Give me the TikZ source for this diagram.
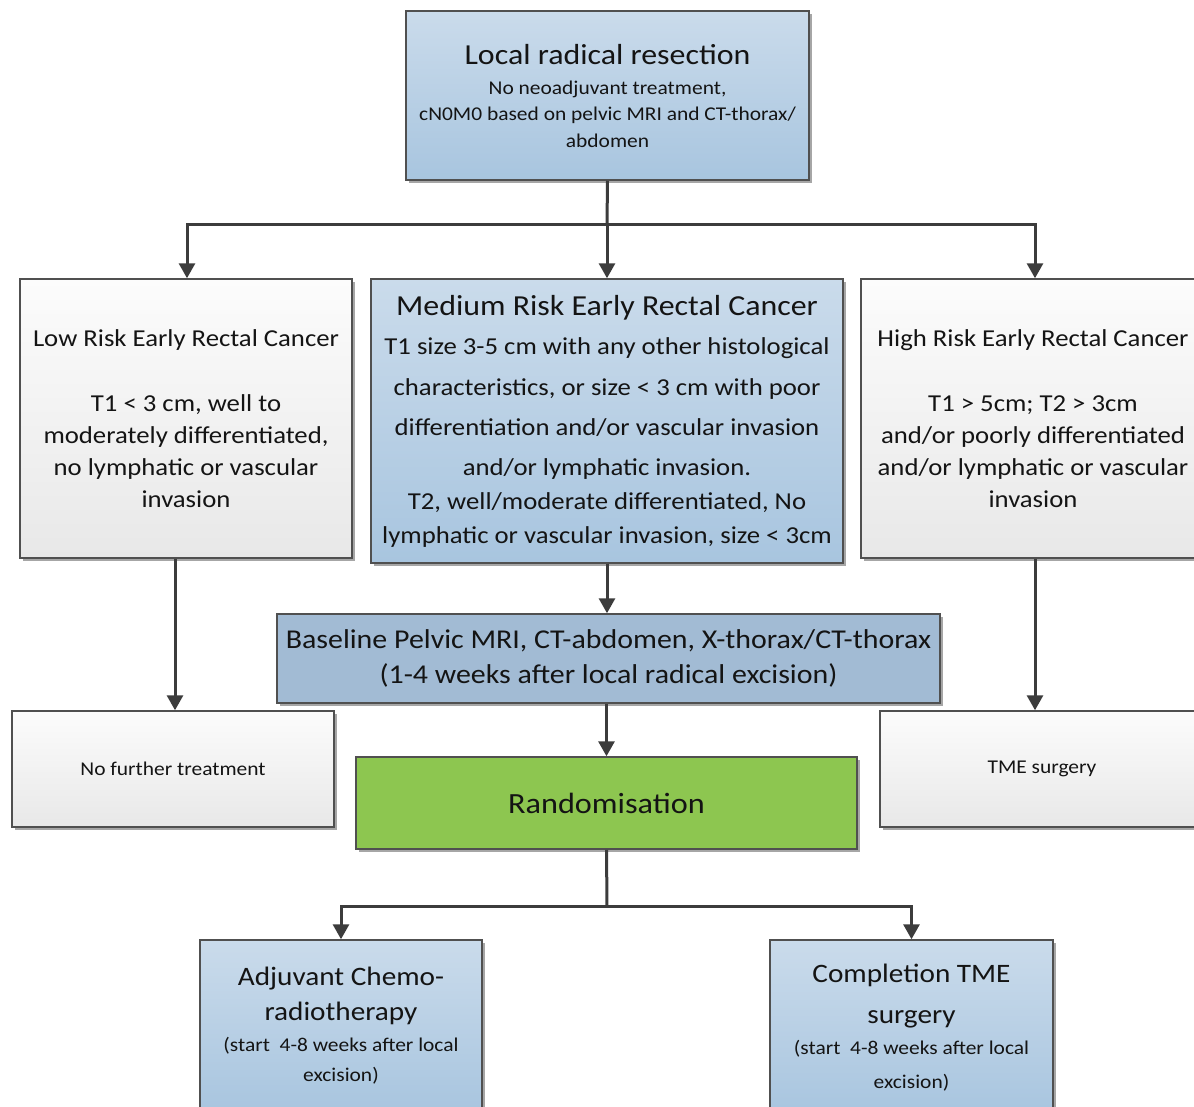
\documentclass[tikz,border=0pt]{standalone}
\usepackage{fontspec}
\setmainfont{Carlito}[FakeStretch=1.1]
\usetikzlibrary{arrows.meta,shadows}
\definecolor{bordc}{RGB}{80,80,80}
\definecolor{arrc}{RGB}{60,60,60}
\definecolor{txtc}{RGB}{20,20,20}
\definecolor{bluetop}{RGB}{202,219,235}
\definecolor{bluebot}{RGB}{168,197,223}
\definecolor{basec}{RGB}{162,187,212}
\definecolor{greyt}{RGB}{252,252,252}
\definecolor{greyb}{RGB}{232,232,232}
\definecolor{greenc}{RGB}{141,198,80}
\newcommand{\fs}[2]{\fontsize{#1}{#2}\selectfont}
\tikzset{
  boxbase/.style={draw=bordc, line width=1.5pt, rectangle, inner sep=0pt, align=center, text=txtc,
    drop shadow={shadow xshift=3pt, shadow yshift=-3pt, fill=black, opacity=0.35}},
  bluebox/.style={boxbase, top color=bluetop, bottom color=bluebot},
  greybox/.style={boxbase, top color=greyt, bottom color=greyb},
  basebox/.style={boxbase, fill=basec},
  greenbox/.style={boxbase, fill=greenc},
  arr/.style={draw=arrc, line width=3pt, -{Triangle[width=16pt,length=15pt]}},
  ln/.style={draw=arrc, line width=3pt}
}
\begin{document}
\begin{tikzpicture}[x=1pt,y=-1pt]
\useasboundingbox (0,0) rectangle (1194,1106);
\fill[white] (0,0) rectangle (1194,1106);
\clip (0,0) rectangle (1194,1106);

\node[bluebox, minimum width=403pt, minimum height=169pt, font=\fs{19.5}{26}] (top) at (607.5,95.5)
  {{\fs{29}{26}Local radical resection}\\[5pt]No neoadjuvant treatment,\\cN0M0 based on pelvic MRI and CT-thorax/\\abdomen};

\node[greybox, minimum width=332pt, minimum height=279pt, font=\fs{24.3}{32}] (low) at (186,418.5)
  {Low Risk Early Rectal Cancer\\[33pt]T1 < 3 cm, well to\\moderately differentiated,\\no lymphatic or vascular\\invasion};

\node[bluebox, minimum width=472pt, minimum height=284pt, font=\fs{24.3}{34}] (med) at (607,421)
  {{\fs{29}{34}Medium Risk Early Rectal Cancer}\\[5pt]T1 size 3-5 cm with any other histological\\[7pt]characteristics, or size < 3 cm with poor\\[6pt]differentiation and/or vascular invasion\\[6pt]and/or lymphatic invasion.\\T2, well/moderate differentiated, No\\lymphatic or vascular invasion, size < 3cm};

\node[greybox, minimum width=344pt, minimum height=279pt, font=\fs{24.3}{32}] (high) at (1033,418.5)
  {High Risk Early Rectal Cancer\\[33pt]T1 > 5cm; T2 > 3cm\\and/or poorly differentiated\\and/or lymphatic or vascular\\invasion};

\node[basebox, minimum width=663pt, minimum height=89pt, font=\fs{27.2}{35}] (base) at (608.5,658.5)
  {Baseline Pelvic MRI, CT-abdomen, X-thorax/CT-thorax\\(1-4 weeks after local radical excision)};

\node[greybox, minimum width=322pt, minimum height=116pt, font=\fs{19.5}{24}] (nofur) at (173,769)
  {No further treatment};

\node[greybox, minimum width=324pt, minimum height=116pt, font=\fs{19.5}{24}] (tme) at (1042,769)
  {TME surgery};

\node[greenbox, minimum width=501pt, minimum height=92pt, font=\fs{29.3}{30}] (rand) at (606.5,803)
  {Randomisation};

\node[bluebox, minimum width=282pt, minimum height=172pt, font=\fs{19.5}{30}] (adj) at (341,1026)
  {{\fs{26.6}{30}Adjuvant Chemo-}\\[5pt]{\fs{26.6}{30}radiotherapy}\\[1pt](start~ 4-8 weeks after local\\excision)};

\node[bluebox, minimum width=283pt, minimum height=176pt, font=\fs{19.5}{30}] (comp) at (911.5,1028)
  {{\fs{26.6}{30}Completion TME}\\[11pt]{\fs{26.6}{30}surgery}\\[1pt](start~ 4-8 weeks after local\\[4pt]excision)};

\coordinate (j1) at (607,224);
\coordinate (j2) at (607,906);

\draw[ln] (top.south) -- (j1);
\draw[arr] (j1) -- (med.north);
\draw[arr] (j1) -| (low.north -| 187,0);
\draw[arr] (j1) -| (high.north -| 1035,0);
\draw[arr] (med.south) -- (base.north -| med.south);
\draw[arr] (low.south -| 175,0) -- (nofur.north -| 175,0);
\draw[arr] (high.south -| 1035,0) -- (tme.north -| 1035,0);
\draw[arr] (base.south -| rand.north) -- (rand.north);
\draw[ln] (rand.south) -- (j2);
\draw[arr] (j2) -| (adj.north);
\draw[arr] (j2) -| (comp.north);
\end{tikzpicture}
\end{document}
